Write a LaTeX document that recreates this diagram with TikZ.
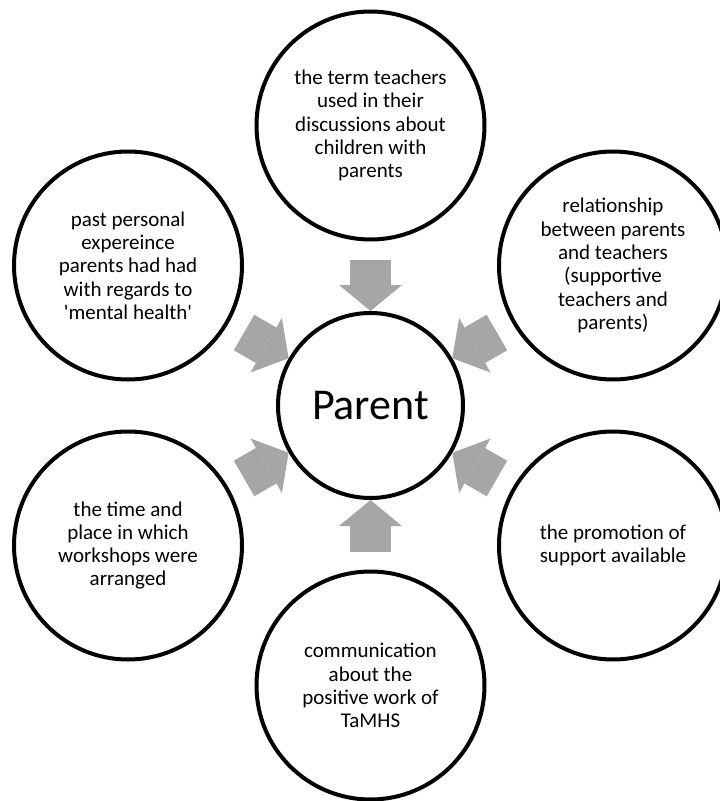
\documentclass[tikz,border=0pt]{standalone}
\usepackage{fontspec}
\setmainfont{Carlito}[Ligatures=TeXOff]
\usepackage{tikz}
\usetikzlibrary{arrows.meta}
\definecolor{arrowgray}{HTML}{A6A6A6}
\tikzstyle{topic} = [circle, draw=black, line width=4pt, minimum size=228pt, inner sep=0pt, align=center, font=\fontsize{21}{23.3}\selectfont]
\tikzstyle{hub} = [circle, draw=black, line width=4pt, minimum size=185pt, inner sep=0pt, font=\fontsize{44}{53}\selectfont]
\tikzstyle{arrow} = [draw=arrowgray, line width=41pt, -{Triangle[length=26pt, width=63pt, line width=0pt]}, shorten <=18pt]

\begin{document}
\begin{tikzpicture}
\useasboundingbox (-370.5pt,-395.5pt) rectangle (349.5pt,405.5pt);

\node (parent) [hub] {Parent};
\node (term) [topic] at (90:280pt) {the term teachers\\used in their\\discussions about\\children with\\parents};
\node (relation) [topic] at (30:280pt) {relationship\\between parents\\and teachers\\(supportive\\teachers and\\parents)};
\node (promotion) [topic] at (-30:280pt) {the promotion of\\support available};
\node (comms) [topic] at (-90:280pt) {communication\\about the\\positive work of\\TaMHS};
\node (workshops) [topic] at (210:280pt) {the time and\\place in which\\workshops were\\arranged};
\node (past) [topic] at (150:280pt) {past personal\\expereince\\parents had had\\with regards to\\'mental health'};

\foreach \src in {term, relation, promotion, comms, workshops, past}
	\draw [arrow] (\src) -- (parent);

\end{tikzpicture}
\end{document}
